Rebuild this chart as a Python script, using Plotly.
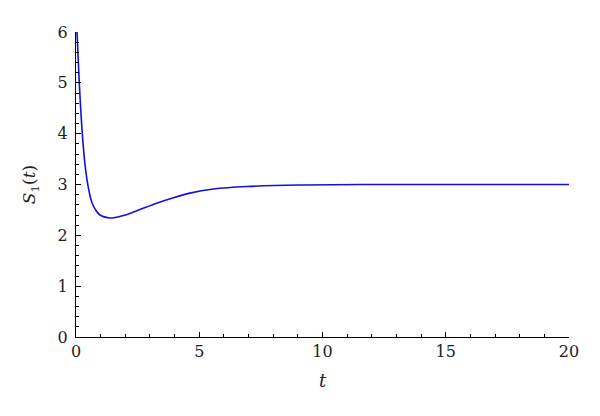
import plotly.graph_objects as go

t_vals = [0.04, 0.13, 0.24, 0.35, 0.45, 0.55, 0.65, 0.77, 0.97, 1.38, 1.92, 2.45, 3.27, 3.95, 4.62, 5.57, 6.92, 9.09, 12, 16, 20]
s_vals = [6.0, 5.03, 4.11, 3.46, 3.08, 2.82, 2.64, 2.52, 2.40, 2.34, 2.39, 2.48, 2.63, 2.74, 2.83, 2.91, 2.96, 2.99, 3.0, 3.0, 3.0]

x_ticks = [0, 5, 10, 15, 20]
y_ticks = [0, 1, 2, 3, 4, 5, 6]

font_family = "DejaVu Serif"

fig = go.Figure()
fig.add_trace(go.Scatter(x=t_vals, y=s_vals, mode="lines",
                         line=dict(color="#1010e0", width=1.6, shape="spline", smoothing=1.0),
                         hoverinfo="skip", showlegend=False, cliponaxis=True))

axis_common = dict(showgrid=False, zeroline=False, showline=True, linecolor="black", linewidth=1.2,
                   ticks="inside", ticklen=5, tickwidth=1.2, tickcolor="black",
                   tickfont=dict(family=font_family, size=16, color="#222"),
                   mirror=False, automargin=False)

fig.update_xaxes(range=[0, 20], tickvals=x_ticks, ticktext=[str(v) for v in x_ticks],
                 minor=dict(dtick=1, ticks="inside", ticklen=3, tickwidth=1, tickcolor="black"),
                 title=dict(text="<i>t</i>", font=dict(family=font_family, size=18, color="#222"), standoff=14),
                 **axis_common)
fig.update_yaxes(range=[0, 6], tickvals=y_ticks, ticktext=[str(v) for v in y_ticks],
                 ticklabelstandoff=4,
                 minor=dict(dtick=0.2, ticks="inside", ticklen=3, tickwidth=1, tickcolor="black"),
                 title=dict(text="<i>S</i><sub>1</sub>(<i>t</i>)", font=dict(family=font_family, size=17, color="#222"), standoff=17),
                 **axis_common)

fig.update_layout(width=600, height=416, margin=dict(l=68, r=39, t=24, b=87),
                  paper_bgcolor="white", plot_bgcolor="white",
                  font=dict(family=font_family))

fig.write_html("out.html")
